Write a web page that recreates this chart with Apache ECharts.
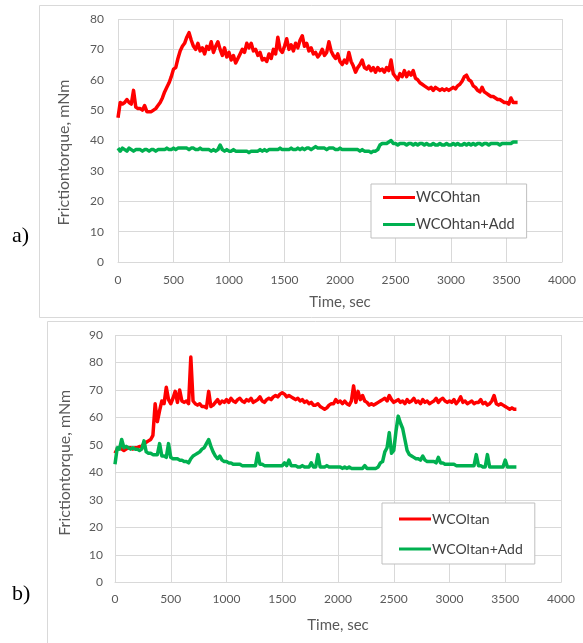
<!DOCTYPE html>
<html><head><meta charset="utf-8">
<script src="https://cdn.jsdelivr.net/npm/echarts@6/dist/echarts.min.js"></script>
<style>html,body{margin:0;padding:0;background:#fff}#c{width:583px;height:643px}</style>
</head><body><div id="c"></div>
<script>
// sampling interval of the recorded friction-torque time series (sec)
const SAMPLE_STEP_SEC = 20;
const xTickValues = [0, 500, 1000, 1500, 2000, 2500, 3000, 3500, 4000];
const namesA = ['WCOhtan', 'WCOhtan+Add'];
const namesB = ['WCOltan', 'WCOltan+Add'];
const axisTitleY = 'Frictiontorque, mNm';
const axisTitleX = 'Time, sec';

// a) WCOhtan
const wcoHtan = [
47.5,52.5,52,52.5,53.5,52.5,52,56.5,51,50.5,
50.5,50,51.5,49.5,49.5,49.5,50,50.5,51.5,52.5,
54,56,57.5,59,61,63.5,64,67,69.5,71,
72,74,75.5,73,71,70,72,69.5,70.5,68.5,
71,70,72.5,69,71,72.5,70,68,70.5,67.5,
69,66.5,68,65.5,67,68.5,70,69,72,70.5,
72,69.5,70,68,69,66.5,67,66,68.5,67,
70,68.5,74,70,69,71,73.5,70,71.5,69.5,
72,70.5,73,74.5,71,72,69.5,70.5,68.5,69,
67.5,68.5,70,68,69,72.5,69.5,68,67,68.5,
66,65,66.5,65.5,69,66,64.5,62.5,64,65,
66.5,64,63.5,64.5,63,64,62.5,64,63,63.5,
62.5,64,63,66.5,62,61,60,62,61,63,
61,62.5,61.5,63,60.5,60,59,58.5,58,57.5,
57,57.5,56.5,57.5,57,56.5,57,56.5,57,56.5,
57,57.5,57,58,58.5,59.5,61,61.5,60,59.5,
58,57.5,56.5,56,57.5,56,55.5,55,54.5,54.5,
54,53.5,53.5,53,52.5,52.5,52,54,52.5,52.5,
52.5];
// a) WCOhtan+Add
const wcoHtanAdd = [
37.5,36.5,37.5,37,36.5,37.5,37,36.5,37,37,
37,36.5,37,37,36.5,37,37,36.5,37,37,
37,37,37.5,37,37,37.5,37,37.5,37.5,37.5,
37.5,37.5,37,37.5,37.5,37,37,37.5,37,37,
37,37,36.5,37,36.5,37,38.5,37,36.5,37,
36.5,36.5,37,36.5,36.5,36.5,36.5,36.5,36.5,36,
36.5,36.5,36.5,36.5,37,36.5,37,36.5,37,37,
37,37,37,37.5,37,37,37,37,37.5,37,
37,37.5,37,37.5,37,37.5,37.5,37,37.5,38,
37.5,37.5,37.5,37.5,37,37.5,37.5,37.5,37,37,
37.5,37,37,37,37,37,37,37,37,36.5,
37,36.5,36.5,36.5,36,36.5,36.5,37,38.5,39,
39,39,39.5,40,39,39,38.5,39,39,39,
38.5,39,39,38.5,39,38.5,39,39,38.5,39,
38.5,38.5,39,38.5,38.5,39,38.5,38.5,39,38.5,
38.5,39,38.5,39,38.5,38.5,39,38.5,39,38.5,
39,38.5,39,39,38.5,39,39,38.5,39,39,
39,39,38.5,39,39,39,39,39,39.5,39.5,
39.5];
// b) WCOltan
const wcoLtan = [
47,48.5,49,48.5,48,48.5,49,49,48.5,49,
49,49.5,49.5,50.5,51,51.5,52,53.5,65,58.5,
62.5,66,65,71,66.5,65,67,69.5,65.5,70,
66,65.5,66,65,82,66,65,64.5,65,64,
64,63.5,69.5,64,64.5,65.5,66.5,65,66,65.5,
66.5,65.5,67,66,65.5,66.5,67,66,65.5,66.5,
66,67,65.5,66,66.5,67.5,66,65.5,66.5,67,
66.5,67.5,68,67.5,68.5,69,68.5,67.5,68,67.5,
67,66.5,67,66,66.5,65.5,66,65,65.5,64.5,
64.5,65,64,63.5,63,63.5,64.5,65,65,66.5,
65.5,66,65,66,65,64.5,66,71.5,65.5,69.5,
66.5,68,66,65.5,64.5,65,64.5,65,65.5,66,
66.5,67,66,68,66.5,65.5,66,66.5,65.5,66,
65,66.5,65.5,66,67,65.5,66,65,66.5,65.5,
66,65,65.5,66,67,65.5,66.5,67,66,65.5,
66,65.5,66.5,65,66,67.5,65.5,66,65,65.5,
66,65,65.5,65.5,66.5,65,65.5,64.5,65,66,
68,65,64.5,65,64.5,64,63.5,63,63.5,63,
63];
// b) WCOltan+Add
const wcoLtanAdd = [
43,49,48.5,52,49,49.5,49,48.5,49,48.5,
48.5,48,48.5,51.5,47.5,47,47,46.5,46.5,46.5,
50.5,46,46,45.5,50.5,45.5,45,45,45,44.5,
44.5,44,44,43.5,45,46,46.5,47,47.5,48.5,
49,50.5,52,49.5,47.5,46,45,46,44.5,44,
44,43.5,43.5,43,43,43,43,42.5,42.5,42.5,
42.5,42.5,42.5,42.5,47,43,43,42.5,42.5,42.5,
42.5,42.5,42.5,42.5,42.5,42.5,43.5,42.5,44.5,42.5,
42.5,42.5,42,42,42.5,42,42,42,43.5,42,
42,46.5,42,42,42,42.5,42,42,42,42,
42,42,41.5,42,41.5,42,41.5,41.5,41.5,41.5,
41.5,41.5,42.5,41.5,41.5,41.5,41.5,41.5,42,43.5,
44,47.5,49,54.5,47,48,55,60.5,58,56,
52,48,46.5,46,45.5,45,45,44.5,46,44.5,
44,44,44,44,43.5,45.5,43.5,43.5,43,43,
43,43,43,42.5,42.5,42.5,42.5,42.5,42.5,42.5,
42.5,42.5,46.5,42.5,42.5,42,42,46.5,42,42,
42,42,42,42,42,44.5,42,42,42,42,
42];

function pairs(vals){ return vals.map((v,i)=>[i*SAMPLE_STEP_SEC, v]); }

const FONT = 'Lato';
const GRAY = '#595959';
const GRID = '#d9d9d9';
const RED = '#ff0000';
const GREEN = '#00b050';

function xAxis(gridIndex, labelMargin, nameGap){
  return {
    type:'value', gridIndex, min:xTickValues[0], max:xTickValues[xTickValues.length-1], interval:500,
    name:axisTitleX, nameLocation:'middle', nameGap,
    nameTextStyle:{fontFamily:FONT, fontSize:15, color:GRAY},
    axisLine:{show:true, lineStyle:{color:GRID}},
    axisTick:{show:false},
    axisLabel:{fontFamily:FONT, fontSize:12, color:GRAY, margin:labelMargin, formatter:v=>String(v)},
    splitLine:{show:true, lineStyle:{color:GRID}}
  };
}
function yAxis(gridIndex, max, labelMargin, nameGap, shift){
  return {
    type:'value', gridIndex, min:0, max, interval:10,
    name:axisTitleY, nameLocation:'middle', nameGap,
    nameTextStyle:{fontFamily:FONT, fontSize:16, color:GRAY, padding:[0, shift, 0, 0]},
    axisLine:{show:false}, axisTick:{show:false},
    axisLabel:{fontFamily:FONT, fontSize:12, color:GRAY, margin:labelMargin},
    splitLine:{show:true, lineStyle:{color:GRID}}
  };
}
function line(name, data, color, xi, yi){
  return {type:'line', name, data:pairs(data), xAxisIndex:xi, yAxisIndex:yi,
    showSymbol:false, symbol:'none', lineStyle:{color, width:3.5, join:'round'}, itemStyle:{color},
    animation:false, silent:true};
}
function legend(names, left, top, padding, gap, fs){
  return {
    data:names, orient:'vertical', left, top, padding, itemGap:gap,
    itemWidth:32, itemHeight:3, icon:'rect',
    backgroundColor:'#fff', borderColor:'#bfbfbf', borderWidth:1,
    textStyle:{fontFamily:FONT, fontSize:fs, color:'#404040', padding:[0,0,0,-4]},
    selectedMode:false
  };
}

const chart = echarts.init(document.getElementById('c'), null, {renderer:'canvas'});
chart.setOption({
  animation:false,
  backgroundColor:'#fff',
  grid:[
    {left:118, top:19, width:444, height:243},
    {left:115, top:335, width:446, height:247.5}
  ],
  xAxis:[xAxis(0,12,33), xAxis(1,11,35)],
  yAxis:[yAxis(0,80,14,46,24), yAxis(1,90,12,42,8)],
  legend:[
    legend(namesA, 371, 184, [6,12,6,12], 12, 14.5),
    legend(namesB, 382, 503, [9,12,8,17], 16, 14)
  ],
  series:[
    line(namesA[0], wcoHtan, RED, 0, 0),
    line(namesA[1], wcoHtanAdd, GREEN, 0, 0),
    line(namesB[0], wcoLtan, RED, 1, 1),
    line(namesB[1], wcoLtanAdd, GREEN, 1, 1)
  ],
  graphic:[
    {type:'rect', z:-10, shape:{x:39.5, y:5.5, width:560, height:312}, style:{fill:'none', stroke:GRID, lineWidth:1}},
    {type:'rect', z:-10, shape:{x:47.5, y:321.5, width:560, height:340}, style:{fill:'none', stroke:GRID, lineWidth:1}},
    {type:'text', left:12, top:225, style:{text:'a)', font:'22px "Liberation Serif"', fill:'#000'}},
    {type:'text', left:12, top:583, style:{text:'b)', font:'22px "Liberation Serif"', fill:'#000'}}
  ]
});
</script></body></html>
